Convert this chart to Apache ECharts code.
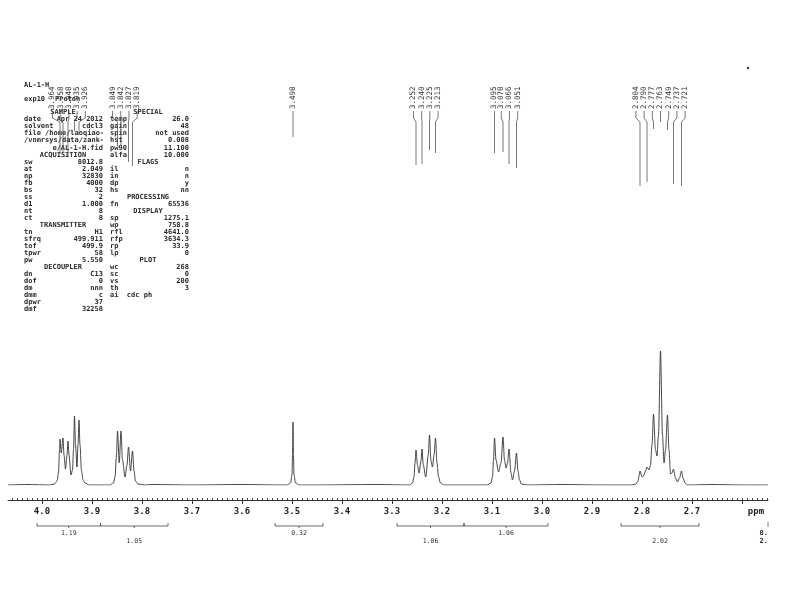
<!DOCTYPE html>
<html>
<head>
<meta charset="utf-8">
<title>AL-1-H</title>
<script src="https://cdn.jsdelivr.net/npm/echarts@6/dist/echarts.min.js"></script>
<style>
  html, body { margin: 0; padding: 0; background: #fff; }
  #main { width: 800px; height: 595px; }
</style>
</head>
<body>
<div id="main"></div>
<script>
// trace, [ppm, intensity]
const baseline = [
  [4.068, 0], [4.03, 0.5], [3.78, 0.5], [3.70, 0], [3.60, 0.5], [3.52, 0],
  [3.45, 0], [3.33, 0.5], [3.16, 0], [2.96, 0.5], [2.88, 0], [2.66, 0.5], [2.60, 0], [2.548, 0]
];
const multA = [
  [3.985, 0], [3.975, 1], [3.970, 4], [3.967, 12], [3.965, 35], [3.964, 46], [3.9615, 32],
  [3.958, 47], [3.956, 30], [3.953, 16], [3.950, 30], [3.948, 44], [3.946, 30], [3.942, 10],
  [3.939, 15], [3.937, 35], [3.935, 69], [3.933, 40], [3.930, 18], [3.928, 40], [3.926, 65],
  [3.924, 40], [3.921, 14], [3.918, 5], [3.914, 2], [3.905, 0]
];
const multB = [
  [3.865, 0], [3.857, 2], [3.854, 8], [3.851, 30], [3.849, 54], [3.8455, 22], [3.842, 54],
  [3.839, 25], [3.834, 8], [3.830, 20], [3.827, 38], [3.823, 14], [3.819, 34], [3.816, 14],
  [3.813, 4], [3.808, 1], [3.795, 0]
];
const singlet = [
  [3.510, 0], [3.503, 2], [3.500, 10], [3.499, 30], [3.498, 63], [3.497, 30], [3.496, 10],
  [3.493, 2], [3.485, 0]
];
const multC = [
  [3.265, 0], [3.259, 2], [3.256, 8], [3.254, 22], [3.252, 35], [3.249, 20], [3.246, 12],
  [3.242, 24], [3.240, 36], [3.2375, 20], [3.2325, 8], [3.2275, 30], [3.225, 50], [3.222, 24],
  [3.219, 18], [3.216, 30], [3.213, 47], [3.210, 22], [3.207, 8], [3.203, 2], [3.195, 0]
];
const multD = [
  [3.110, 0], [3.102, 2], [3.099, 8], [3.097, 25], [3.095, 47], [3.092, 25], [3.087, 13],
  [3.082, 22], [3.078, 48], [3.075, 25], [3.072, 17], [3.069, 22], [3.066, 36], [3.062, 12],
  [3.059, 5], [3.055, 14], [3.051, 32], [3.048, 14], [3.045, 5], [3.041, 1], [3.030, 0]
];
const multE = [
  [2.820, 0], [2.812, 1], [2.808, 4], [2.806, 9], [2.804, 14], [2.800, 8], [2.797, 9],
  [2.793, 14], [2.790, 18], [2.786, 15], [2.783, 20], [2.780, 40], [2.777, 71], [2.773, 35],
  [2.770, 29], [2.767, 50], [2.763, 134], [2.759, 50], [2.756, 22], [2.753, 35], [2.749, 70],
  [2.746, 35], [2.743, 11], [2.740, 12], [2.737, 16], [2.733, 7], [2.729, 3], [2.725, 7],
  [2.721, 14], [2.718, 7], [2.714, 2], [2.709, 0]
];

// peak list printed above the spectrum
const peakPpm = [3.964, 3.958, 3.948, 3.935, 3.926, 3.849, 3.842, 3.827, 3.819, 3.498,
  3.252, 3.240, 3.225, 3.213, 3.095, 3.078, 3.066, 3.051,
  2.804, 2.790, 2.777, 2.763, 2.749, 2.737, 2.721];
const peakInt = [46, 47, 44, 69, 65, 54, 54, 38, 34, 63,
  35, 36, 50, 47, 47, 48, 36, 32,
  14, 18, 71, 134, 70, 16, 14];

// integral regions
const intFrom = [4.010, 3.883, 3.534, 3.290, 3.156, 2.842];
const intTo = [3.883, 3.748, 3.438, 3.156, 2.988, 2.686];
const intVal = ['1.19', '1.05', '0.32', '1.06', '1.06', '2.02'];

// axis
const PPM_MIN = 2.548, PPM_MAX = 4.068;
const tickPpm = [4.0, 3.9, 3.8, 3.7, 3.6, 3.5, 3.4, 3.3, 3.2, 3.1, 3.0, 2.9, 2.8, 2.7, 2.6];
const labelPpm = [4.0, 3.9, 3.8, 3.7, 3.6, 3.5, 3.4, 3.3, 3.2, 3.1, 3.0, 2.9, 2.8, 2.7];
const UNIT_AT = 2.572; // where "ppm" sits under the axis
const minorTicks = [];
for (let k = 255; k <= 406; k++) minorTicks.push(k / 100);

// parameter listing (left and right columns)
const leftRows = [
  ['SAMPLE'], ['date', 'Apr 24 2012'], ['solvent', 'cdcl3'], ['file /home/laoqiao-', ''],
  ['/vnmrsys/data/zank-', ''], ['', 'e/AL-1-H.fid'], ['ACQUISITION'], ['sw', '8012.8'],
  ['at', '2.049'], ['np', '32830'], ['fb', '4000'], ['bs', '32'], ['ss', '2'], ['d1', '1.000'],
  ['nt', '8'], ['ct', '8'], ['TRANSMITTER'], ['tn', 'H1'], ['sfrq', '499.911'], ['tof', '499.9'],
  ['tpwr', '58'], ['pw', '5.550'], ['DECOUPLER'], ['dn', 'C13'], ['dof', '0'], ['dm', 'nnn'],
  ['dmm', 'c'], ['dpwr', '37'], ['dmf', '32258']
];
const rightRows = [
  ['SPECIAL'], ['temp', '26.0'], ['gain', '48'], ['spin', 'not used'], ['hst', '0.008'],
  ['pw90', '11.100'], ['alfa', '10.000'], ['FLAGS'], ['il', 'n'], ['in', 'n'], ['dp', 'y'],
  ['hs', 'nn'], ['PROCESSING'], ['fn', '65536'], ['DISPLAY'], ['sp', '1275.1'], ['wp', '758.8'],
  ['rfl', '4641.0'], ['rfp', '3634.3'], ['rp', '33.9'], ['lp', '0'], ['PLOT'], ['wc', '268'],
  ['sc', '0'], ['vs', '200'], ['th', '3'], ['ai  cdc ph', '']
];

const MONO = '"DejaVu Sans Mono", "Liberation Mono", monospace';
const INK = '#2a2a2a';
const LABEL_GAP = 8.2;

const trace = [].concat(baseline, multA, multB, singlet, multC, multD, multE)
  .sort((a, b) => b[0] - a[0]);

function peakLayout(api) {
  const xs = peakPpm.map(p => api.coord([p, 0])[0]);
  const groups = [];
  xs.forEach((x, i) => {
    const g = groups[groups.length - 1];
    if (g && x - xs[g[g.length - 1]] < LABEL_GAP) g.push(i);
    else groups.push([i]);
  });
  const pos = [];
  groups.forEach(g => {
    const mid = g.reduce((s, i) => s + xs[i], 0) / g.length;
    g.forEach((i, k) => { pos[i] = mid + (k - (g.length - 1) / 2) * LABEL_GAP; });
  });
  return { xs, pos };
}

function listing() {
  const els = [];
  const rowY = k => 112.5 + 7.04 * k;
  const txt = (s, x, y, align) => ({
    type: 'text', x, y, silent: true,
    style: { text: s, font: 'bold 7px ' + MONO, fill: INK, align: align || 'left', verticalAlign: 'middle' }
  });
  const addCol = (rows, keyX, valX, midX) => {
    rows.forEach((r, k) => {
      const y = rowY(k);
      if (r.length === 1) { els.push(txt(r[0], midX, y, 'center')); return; }
      if (r[0]) els.push(txt(r[0], keyX, y));
      if (r[1]) els.push(txt(r[1], valX, y, 'right'));
    });
  };
  addCol(leftRows, 24, 103, 63);
  addCol(rightRows, 110, 189, 148);
  els.push(txt('AL-1-H', 24, 85));
  els.push(txt('exp10', 24, 99));
  els.push(txt('Proton', 55, 99));
  // clipped integral values at the right edge
  els.push(txt('8.', 768, 533, 'right'));
  els.push(txt('2.', 768, 541, 'right'));
  els.push({ type: 'line', silent: true, shape: { x1: 768, y1: 522, x2: 768, y2: 527 },
    style: { stroke: '#555', lineWidth: 0.8 } });
  els.push({ type: 'circle', silent: true, shape: { cx: 748, cy: 68, r: 1.2 }, style: { fill: '#333' } });
  return els;
}

const chart = echarts.init(document.getElementById('main'));

const option = {
  animation: false,
  backgroundColor: '#fff',
  grid: { left: 8, right: 32, top: 285, bottom: 110 },
  xAxis: [
    {
      type: 'value', inverse: true, min: PPM_MIN, max: PPM_MAX, position: 'bottom', offset: 15,
      axisLine: { show: true, onZero: false, lineStyle: { color: '#333', width: 1 } },
      axisTick: { show: true, length: 4, customValues: tickPpm, lineStyle: { color: '#333' } },
      axisLabel: {
        customValues: labelPpm.concat([UNIT_AT]),
        margin: 7, fontFamily: MONO, fontSize: 9, fontWeight: 'bold', color: '#222',
        formatter: v => (v < 2.65 ? 'ppm' : v.toFixed(1))
      },
      splitLine: { show: false }
    },
    {
      type: 'value', inverse: true, min: PPM_MIN, max: PPM_MAX, position: 'bottom', offset: 15,
      axisLine: { show: false, onZero: false },
      axisTick: { show: true, inside: true, length: 2, customValues: minorTicks, lineStyle: { color: '#444' } },
      axisLabel: { show: false },
      splitLine: { show: false }
    }
  ],
  yAxis: { type: 'value', min: 0, max: 200, show: false },
  graphic: listing(),
  series: [
    {
      type: 'line',
      data: trace,
      showSymbol: false,
      smooth: 0.3,
      smoothMonotone: 'x',
      lineStyle: { color: '#333', width: 0.9 },
      silent: true
    },
    {
      // peak labels and their leaders
      type: 'custom',
      data: peakPpm.map((p, i) => [p, peakInt[i]]),
      encode: { x: 0, y: 1 },
      silent: true,
      renderItem: (params, api) => {
        const i = params.dataIndex;
        const { xs, pos } = peakLayout(api);
        const top = api.coord([peakPpm[i], peakInt[i]])[1];
        const endY = Math.max(122, top - 285);
        return {
          type: 'group',
          children: [
            {
              type: 'text', x: pos[i], y: 109, rotation: Math.PI / 2,
              style: { text: peakPpm[i].toFixed(3), font: '7.5px ' + MONO, fill: '#333',
                align: 'left', verticalAlign: 'middle' }
            },
            {
              type: 'polyline',
              shape: { points: [[pos[i], 111], [pos[i], 118], [xs[i], 122], [xs[i], endY]] },
              style: { stroke: '#555', lineWidth: 0.8, fill: null }
            }
          ]
        };
      }
    },
    {
      // integral brackets below the axis
      type: 'custom',
      data: intFrom.map((f, i) => [f, intTo[i], i]),
      encode: { x: [0, 1], y: 2 },
      silent: true,
      renderItem: (params, api) => {
        const i = params.dataIndex;
        const x1 = api.coord([intFrom[i], 0])[0];
        const x2 = api.coord([intTo[i], 0])[0];
        const mid = (x1 + x2) / 2;
        return {
          type: 'group',
          children: [
            {
              type: 'polyline',
              shape: { points: [[x1, 523], [x1, 526], [x2, 526], [x2, 523]] },
              style: { stroke: '#444', lineWidth: 0.8, fill: null }
            },
            {
              type: 'line', shape: { x1: mid, y1: 526, x2: mid, y2: 528 },
              style: { stroke: '#444', lineWidth: 0.8 }
            },
            {
              type: 'text', x: mid, y: i % 2 ? 541 : 533,
              style: { text: intVal[i], font: '6.5px ' + MONO, fill: '#333',
                align: 'center', verticalAlign: 'middle' }
            }
          ]
        };
      }
    }
  ]
};

chart.setOption(option);
</script>
</body>
</html>
